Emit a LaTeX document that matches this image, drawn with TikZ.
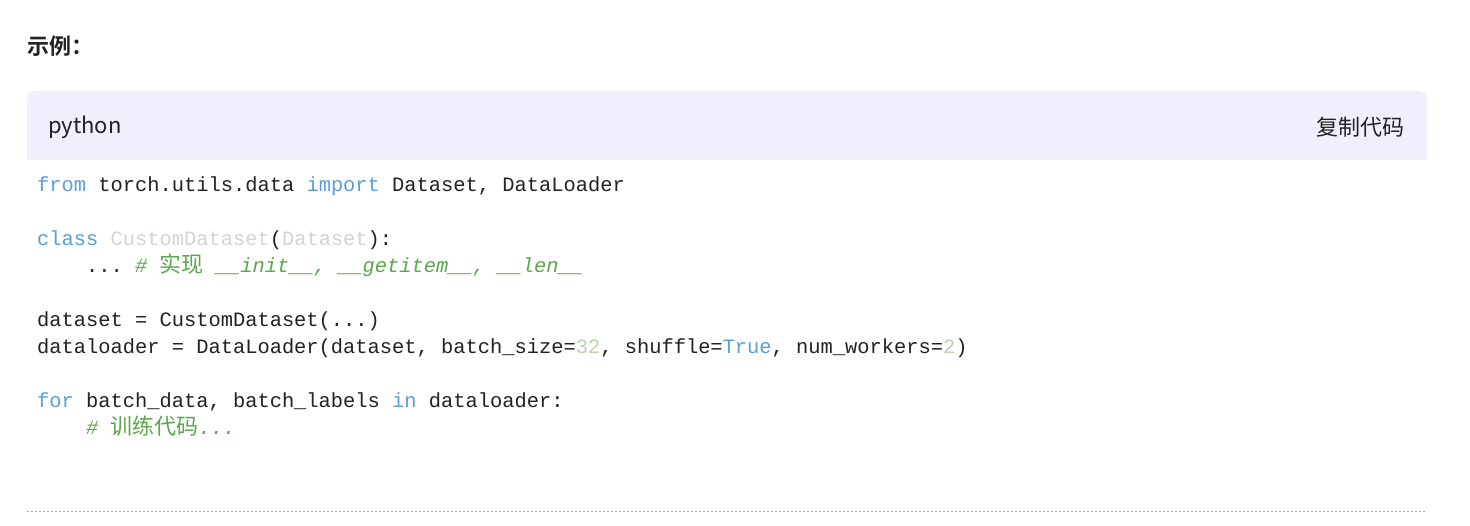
\documentclass[tikz,border=0pt]{standalone}
\usepackage{fontspec}
\setmainfont{Noto Sans CJK SC}
\setmonofont{Liberation Mono}
\newfontfamily\cjk{Noto Sans CJK SC}
\newfontfamily\cjkb{Noto Sans CJK SC}[BoldFont={Noto Sans CJK SC Bold}]
\definecolor{kw}{HTML}{5A9FD8}
\definecolor{cls}{HTML}{D4D4D4}
\definecolor{num}{HTML}{B5D6A8}
\definecolor{cmt}{HTML}{5AA84A}
\definecolor{hdr}{HTML}{F0F0FC}
\definecolor{txt}{HTML}{222222}
\begin{document}
\begin{tikzpicture}[x=1pt,y=-1pt,
  code/.style={anchor=base west,inner sep=0pt,font=\fontsize{20.4}{24}\ttfamily,text=txt},
  ui/.style={inner sep=0pt,font=\fontsize{22}{26}\selectfont,text=txt}]
\useasboundingbox[fill=white] (0,0) rectangle (1470,526);
\fill[hdr,rounded corners=8pt] (27,130) -- (27,91) -- (1427,91) -- (1427,130) -- cycle;
\fill[hdr] (27,120) rectangle (1427,160);
\node[ui,anchor=west,font=\fontsize{22}{26}\cjkb\bfseries] (title) at (27,46) {示例：};
\node[ui,anchor=west] (lang) at (48,127) {python};
\node[ui,anchor=east,font=\fontsize{22}{26}\cjk] (copy) at (1405,127) {复制代码};
\node[code] (l1) at (37,192) {\textcolor{kw}{from} torch.utils.data \textcolor{kw}{import} Dataset, DataLoader};
\node[code] (l2) at (37,246) {\textcolor{kw}{class} \textcolor{cls}{CustomDataset}(\textcolor{cls}{Dataset}):};
\node[code] (l3) at (37,273) {\phantom{\ \ \ \ }... \textcolor{cmt}{\itshape \#\ {\cjk\fontsize{22}{24}\selectfont 实现}\ \_\_init\_\_,\ \_\_getitem\_\_,\ \_\_len\_\_}};
\node[code] (l4) at (37,327) {dataset = CustomDataset(...)};
\node[code] (l5) at (37,354) {dataloader = DataLoader(dataset, batch\_size=\textcolor{num}{32}, shuffle=\textcolor{kw}{True}, num\_workers=\textcolor{num}{2})};
\node[code] (l6) at (37,408) {\textcolor{kw}{for} batch\_data, batch\_labels \textcolor{kw}{in} dataloader:};
\node[code] (l7) at (37,435) {\phantom{\ \ \ \ }\textcolor{cmt}{\itshape \#\ {\cjk\fontsize{22}{24}\selectfont 训练代码}...}};
\draw[gray!70,dashed,dash pattern=on 2pt off 2pt] (27,511) -- (1427,511);
\end{tikzpicture}
\end{document}
